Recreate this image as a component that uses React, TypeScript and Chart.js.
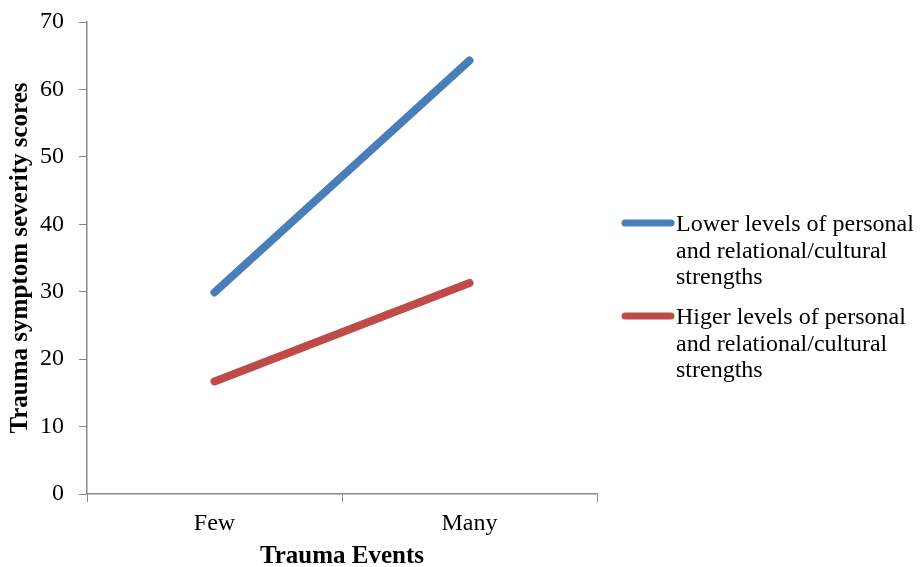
import React, { useEffect, useRef } from "react";
import { Chart, registerables } from "chart.js";

Chart.register(...registerables);

const categories = ["Few", "Many"];
const lowerStrengths = [29.9, 64.3];
const higherStrengths = [16.7, 31.3];
const seriesLines = [
  ["Lower levels of personal", "and relational/cultural", "strengths"],
  ["Higer levels of personal", "and relational/cultural", "strengths"],
];
const seriesColors = ["#4A7EBB", "#BE4B48"];
const yTitle = "Trauma symptom severity scores";
const xTitle = "Trauma Events";

const FONT = "'Liberation Serif', serif";

const legendPlugin = {
  id: "sideLegend",
  afterDraw(chart: any) {
    const ctx = chart.ctx;
    ctx.save();
    const starts = [225, 318];
    chart.data.datasets.forEach((ds: any, i: number) => {
      const y0 = starts[i];
      ctx.strokeStyle = ds.borderColor;
      ctx.lineWidth = 7;
      ctx.lineCap = "round";
      ctx.beginPath();
      ctx.moveTo(625, y0 - 2);
      ctx.lineTo(671, y0 - 2);
      ctx.stroke();
      ctx.fillStyle = "#000";
      ctx.font = `24px ${FONT}`;
      ctx.textBaseline = "middle";
      ctx.textAlign = "left";
      seriesLines[i].forEach((line, j) => {
        ctx.fillText(line, 676, y0 + j * 26.5);
      });
    });
    ctx.restore();
  },
};

export default function App() {
  const ref = useRef<HTMLCanvasElement>(null);
  useEffect(() => {
    if (!ref.current) return;
    const chart = new Chart(ref.current, {
      type: "line",
      data: {
        labels: categories,
        datasets: [
          {
            label: seriesLines[0].join(" "),
            data: lowerStrengths,
            borderColor: seriesColors[0],
            backgroundColor: seriesColors[0],
            borderWidth: 8,
            borderCapStyle: "round",
            pointRadius: 0,
            tension: 0,
          },
          {
            label: seriesLines[1].join(" "),
            data: higherStrengths,
            borderColor: seriesColors[1],
            backgroundColor: seriesColors[1],
            borderWidth: 8,
            borderCapStyle: "round",
            pointRadius: 0,
            tension: 0,
          },
        ],
      },
      options: {
        animation: false,
        responsive: false,
        maintainAspectRatio: false,
        layout: { padding: { top: 22, right: 324, bottom: 0, left: 2 } },
        plugins: {
          legend: { display: false },
          tooltip: { enabled: false },
        },
        scales: {
          x: {
            type: "category",
            offset: true,
            afterFit: (s: any) => {
              s.height = 73;
              s.paddingLeft = 0;
              s.paddingRight = 0;
            },
            grid: {
              offset: true,
              drawOnChartArea: false,
              drawTicks: true,
              tickLength: 8,
              color: "#888888",
              lineWidth: 1,
            },
            border: { display: true, color: "#888888", width: 1.5 },
            ticks: {
              color: "#000",
              padding: 7,
              font: { family: FONT, size: 24 },
            },
            title: {
              display: true,
              text: xTitle,
              color: "#000",
              font: { family: FONT, size: 25, weight: "bold", lineHeight: 0.8 },
              padding: 0,
            },
          },
          y: {
            min: 0,
            max: 70,
            afterFit: (s: any) => {
              s.width = 85;
              s.paddingTop = 0;
              s.paddingBottom = 0;
            },
            ticks: {
              stepSize: 10,
              color: "#000",
              padding: 15,
              font: { family: FONT, size: 24 },
            },
            grid: {
              drawOnChartArea: false,
              drawTicks: true,
              tickLength: 8,
              color: "#888888",
              lineWidth: 1,
            },
            border: { display: true, color: "#888888", width: 1.5 },
            title: {
              display: true,
              text: yTitle,
              color: "#000",
              font: { family: FONT, size: 25, weight: "bold", lineHeight: 1 },
              padding: { top: 6, bottom: 0 },
            },
          },
        },
      },
      plugins: [legendPlugin],
    } as any);
    return () => chart.destroy();
  }, []);
  return (
    <div style={{ position: "fixed", left: 0, top: 0, width: 921, height: 567, background: "#fff" }}>
      <canvas ref={ref} width={921} height={567} style={{ width: 921, height: 567 }} />
    </div>
  );
}
